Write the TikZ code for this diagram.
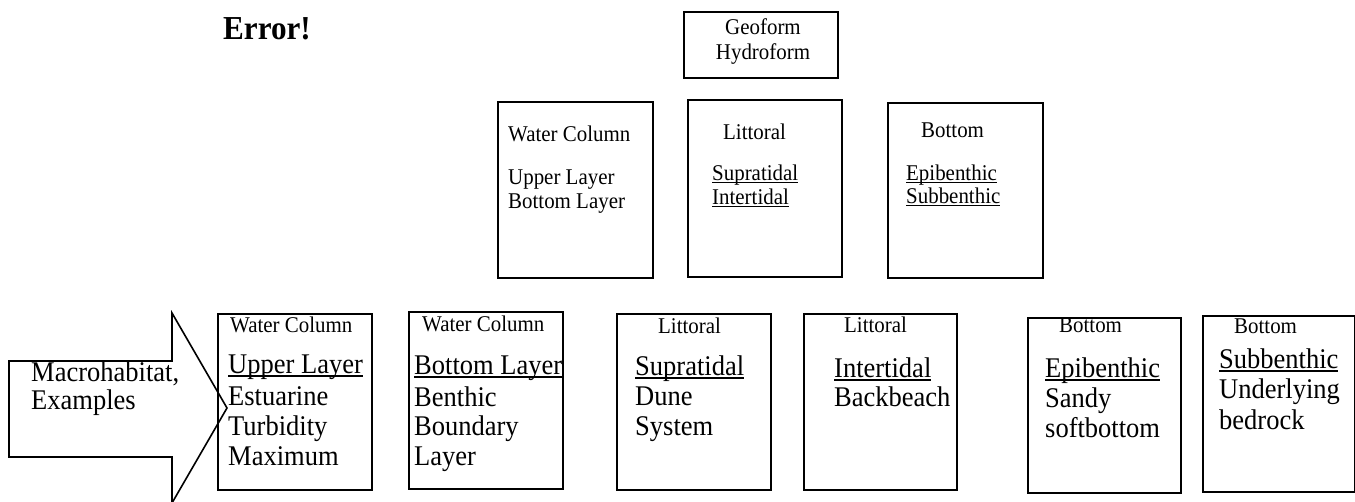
\documentclass[tikz,border=0pt]{standalone}
\usepackage{fontspec}
\setmainfont{Liberation Serif}[FakeStretch=0.93]
% underline that sits just under the baseline, crossing descenders
\newcommand\wordul[1]{\setbox0\hbox{#1}\rlap{\rule[-0.13em]{\wd0}{0.05em}}\box0}
\begin{document}
\begin{tikzpicture}[x=1pt,y=-1pt,
  box/.style={draw=black,line width=1.6pt,anchor=north west,inner sep=0pt},
  sm/.style={anchor=base west,inner sep=0pt,font=\fontsize{22.5}{26}\selectfont},
  smc/.style={anchor=base,inner sep=0pt,font=\fontsize{22.5}{26}\selectfont},
  lg/.style={anchor=base west,inner sep=0pt,font=\fontsize{28.5}{32}\selectfont}]
\useasboundingbox (0,0) rectangle (1355,501);

% heading
\node[anchor=base west,inner sep=0pt,font=\fontsize{33.5}{38}\selectfont\bfseries] (err) at (223,39) {Error!};

% top level
\node[box,minimum width=154pt,minimum height=66pt] (geo) at (683,11) {};
\node[smc] (geo1) at (763,34) {Geoform};
\node[smc] (geo2) at (763,59) {Hydroform};

% second level
\node[box,minimum width=155pt,minimum height=176pt] (wc) at (497,101) {};
\node[sm] (wc1) at (508,141) {Water Column};
\node[sm] (wc2) at (508,184) {Upper Layer};
\node[sm] (wc3) at (508,208) {Bottom Layer};

\node[box,minimum width=154pt,minimum height=177pt] (lit) at (687,99) {};
\node[sm] (lit1) at (723,139) {Littoral};
\node[sm] (lit2) at (712,180) {\wordul{Supratidal}};
\node[sm] (lit3) at (712,204) {\wordul{Intertidal}};

\node[box,minimum width=155pt,minimum height=175pt] (bot) at (887,102) {};
\node[sm] (bot1) at (921,137) {Bottom};
\node[sm] (bot2) at (906,180) {\wordul{Epibenthic}};
\node[sm] (bot3) at (906,203) {\wordul{Subbenthic}};

% pointer arrow
\draw[line width=1.6pt,line join=miter]
  (9,361) -- (172,361) -- (172,313) -- (227,408) -- (172,503) -- (172,457) -- (9,457) -- cycle;
\node[lg] (mh1) at (31,381) {Macrohabitat,};
\node[lg] (mh2) at (31,409) {Examples};

% macrohabitat examples
\node[box,minimum width=154pt,minimum height=176pt] (m1) at (217,313) {};
\node[sm] (m1a) at (230,332) {Water Column};
\node[lg] (m1b) at (228,373) {\wordul{Upper Layer}};
\node[lg] (m1c) at (228,405) {Estuarine};
\node[lg] (m1d) at (228,435) {Turbidity};
\node[lg] (m1e) at (228,465) {Maximum};

\node[box,minimum width=154pt,minimum height=177pt] (m2) at (408,311) {};
\node[sm] (m2a) at (422,331) {Water Column};
\node[lg] (m2b) at (414,374) {\wordul{Bottom Layer}};
\node[lg] (m2c) at (414,406) {Benthic};
\node[lg] (m2d) at (414,435) {Boundary};
\node[lg] (m2e) at (414,465) {Layer};

\node[box,minimum width=154pt,minimum height=176pt] (m3) at (616,313) {};
\node[sm] (m3a) at (658,333) {Littoral};
\node[lg] (m3b) at (635,375) {\wordul{Supratidal}};
\node[lg] (m3c) at (635,405) {Dune};
\node[lg] (m3d) at (635,435) {System};

\node[box,minimum width=153pt,minimum height=176pt] (m4) at (803,313) {};
\node[sm] (m4a) at (844,332) {Littoral};
\node[lg] (m4b) at (834,377) {\wordul{Intertidal}};
\node[lg] (m4c) at (834,406) {Backbeach};

\node[box,minimum width=153pt,minimum height=175pt] (m5) at (1027,317) {};
\node[sm] (m5a) at (1059,332) {Bottom};
\node[lg] (m5b) at (1045,377) {\wordul{Epibenthic}};
\node[lg] (m5c) at (1045,407) {Sandy};
\node[lg] (m5d) at (1045,437) {softbottom};

\node[box,minimum width=152pt,minimum height=176pt] (m6) at (1202,315) {};
\node[sm] (m6a) at (1234,333) {Bottom};
\node[lg] (m6b) at (1219,368) {\wordul{Subbenthic}};
\node[lg] (m6c) at (1219,398) {Underlying};
\node[lg] (m6d) at (1219,429) {bedrock};
\end{tikzpicture}
\end{document}
